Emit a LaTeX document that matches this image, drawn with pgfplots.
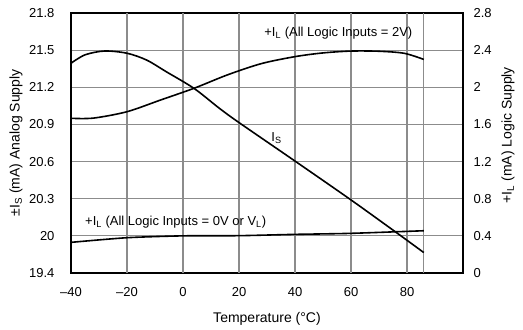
\documentclass[border=0pt]{standalone}
\usepackage{fontspec}
\setmainfont{Liberation Sans}
\usepackage{pgfplots}
\pgfplotsset{compat=1.18}
\usetikzlibrary{calc}

\begin{document}
\begin{tikzpicture}[font=\fontsize{13}{15}\selectfont]
\tikzset{gridline/.style={black!45, line width=1.1pt}}
% horizontal grid: the axis box below sits at (0,0)--(392pt,260pt)
\foreach \k in {1,...,6}{
  \draw[gridline] (0pt,{\k*260/7*1pt}) -- (392pt,{\k*260/7*1pt});
}
\pgfplotsset{
  common/.style={
    width=392pt, height=260pt, scale only axis,
    at={(0,0)}, anchor=south west,
    xmin=-40, xmax=100,
    tick align=inside,
    major tick length=0pt,
    tick label style={font=\fontsize{13}{15}\selectfont},
    label style={font=\fontsize{14}{16}\selectfont},
    /pgf/number format/assume math mode=true,
  }
}
% left axis: analog supply current
\begin{axis}[common, name=ax,
    ymin=19.7, ymax=21.8,
    axis line style={line width=1.5pt},
    xtick={-40,-20,0,20,40,60,80},
    xticklabels={–40,–20,0,20,40,60,80},
    ytick={19.7,20,20.3,20.6,20.9,21.2,21.5,21.8},
    yticklabels={19.4,20,20.3,20.6,20.9,21.2,21.5,21.8},
    yticklabel style={xshift=-13pt},
    xticklabel style={yshift=-11pt},
    xlabel={Temperature (°C)},
    xlabel style={at={(axis description cs:0.5,-0.177)}, anchor=center},
    ylabel={±I\textsubscript{S} (mA) Analog Supply},
    ylabel style={at={(axis description cs:-0.140,0.5)}, anchor=center, rotate=0},
  ]
  % vertical grid
  \pgfplotsinvokeforeach{-20,0,20,40,60,80,86}{
    \draw[gridline] (axis cs:#1,19.7) -- (axis cs:#1,21.8);
  }
  \addplot[black, line width=1.6pt, smooth, tension=0.5] coordinates {
    (-40,21.394)(-35,21.462)(-28,21.493)(-20,21.475)(-13,21.42)(-6,21.326)
    (4,21.19)(13,21.03)(20,20.915)(40,20.604)(60,20.29)(76,20.03)(86,19.865)
  };
\end{axis}
% right axis: logic supply current
\begin{axis}[common,
    ymin=0, ymax=2.8,
    axis x line=none,
    axis y line*=right,
    y axis line style={draw=none},
    ytick={0,0.4,...,2.8},
    yticklabel style={xshift=7pt},
    ylabel={+I\textsubscript{L} (mA) Logic Supply},
    ylabel style={at={(axis description cs:1.115,0.53)}, anchor=center, rotate=0},
  ]
  \addplot[black, line width=1.6pt, smooth, tension=0.5] coordinates {
    (-40,1.666)(-32,1.668)(-20,1.737)(-8,1.863)(4,1.99)(16,2.135)(28,2.255)
    (40,2.33)(50,2.37)(60,2.39)(70,2.388)(79,2.366)(86,2.30)
  };
  \addplot[black, line width=1.6pt, smooth, tension=0.4] coordinates {
    (-40,0.33)(-20,0.38)(0,0.40)(20,0.402)(40,0.416)(60,0.427)(86,0.455)
  };
  \node[anchor=west, inner sep=0pt] at (axis cs:29,2.585) {+I\textsubscript{L} (All Logic Inputs = 2V)};
  \node[anchor=west, inner sep=0pt] at (axis cs:-35,0.55) {+I\textsubscript{L} (All Logic Inputs = 0V or V\textsubscript{L})};
  \node[anchor=west, inner sep=0pt] at (axis cs:31.5,1.454) {I\textsubscript{S}};
\end{axis}
\path ($(ax.south west)+(-71pt,-57pt)$) rectangle ($(ax.north east)+(60pt,13pt)$);
\end{tikzpicture}
\end{document}
